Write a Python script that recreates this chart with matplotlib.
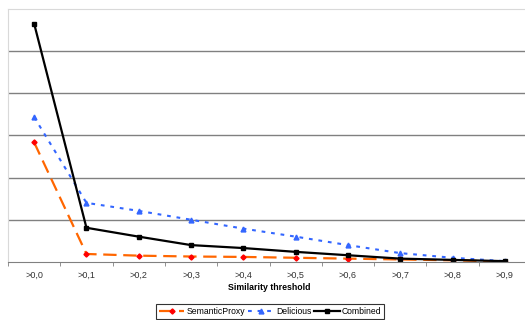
import numpy as np
from matplotlib import pyplot as plt

thresholds = ['>0,0', '>0,1', '>0,2', '>0,3', '>0,4', '>0,5', '>0,6', '>0,7', '>0,8', '>0,9']
semanticproxy = [2.83, 0.19, 0.15, 0.13, 0.12, 0.10, 0.08, 0.06, 0.04, 0.01]
delicious = [3.43, 1.40, 1.21, 1.00, 0.79, 0.60, 0.40, 0.21, 0.10, 0.02]
combined = [5.64, 0.81, 0.60, 0.40, 0.33, 0.24, 0.16, 0.08, 0.05, 0.02]

plt.rcParams['font.family'] = ['Liberation Sans', 'DejaVu Sans']

fig = plt.figure(figsize=(5.25, 3.2), dpi=100)
ax = fig.add_axes([8 / 525, 1 - 262 / 320, 523 / 525, 253.5 / 320])

x = np.arange(len(thresholds))
ax.plot(x, semanticproxy, color='#FF6600', lw=1.6, dashes=(6, 3),
        marker='D', ms=2.6, mfc='#FF0000', mec='#FF0000', label='SemanticProxy')
ax.plot(x, delicious, color='#3366FF', lw=1.5, dashes=(1.8, 2.8),
        marker='^', ms=3.5, mfc='#3366FF', mec='#3366FF', label='Delicious')
ax.plot(x, combined, color='black', lw=1.6,
        marker='s', ms=3, mfc='black', mec='black', label='Combined')

ax.set_xlim(-0.5, len(thresholds) - 0.5)
ax.set_ylim(0, 6)
ax.set_yticks(np.arange(1, 6))
ax.yaxis.grid(True, color='#808080', lw=1)
ax.set_axisbelow(True)
ax.tick_params(axis='y', left=False, labelleft=False)

# category labels centred, tick marks between categories
ax.set_xticks(x)
ax.set_xticklabels(thresholds, fontsize=6.5, color='#333333')
ax.set_xticks(np.arange(-0.5, len(thresholds)), minor=True)
ax.tick_params(axis='x', which='major', length=0, pad=6)
ax.tick_params(axis='x', which='minor', length=3, color='#808080', direction='out')

for side in ['top', 'left', 'right']:
    ax.spines[side].set_color('#D9D9D9')
ax.spines['bottom'].set_color('#808080')

ax.set_xlabel('Similarity threshold', fontsize=6.3, fontweight='bold', labelpad=3)

leg = fig.legend(loc='center', bbox_to_anchor=(270 / 525, 1 - 311.5 / 320), ncol=3,
                 fontsize=6.2, frameon=True, fancybox=False, edgecolor='black',
                 handlelength=3.0, handletextpad=0.25, columnspacing=0.3,
                 borderpad=0.3, borderaxespad=0)
leg.get_frame().set_linewidth(0.8)

fig.savefig('out.png', dpi=100)
